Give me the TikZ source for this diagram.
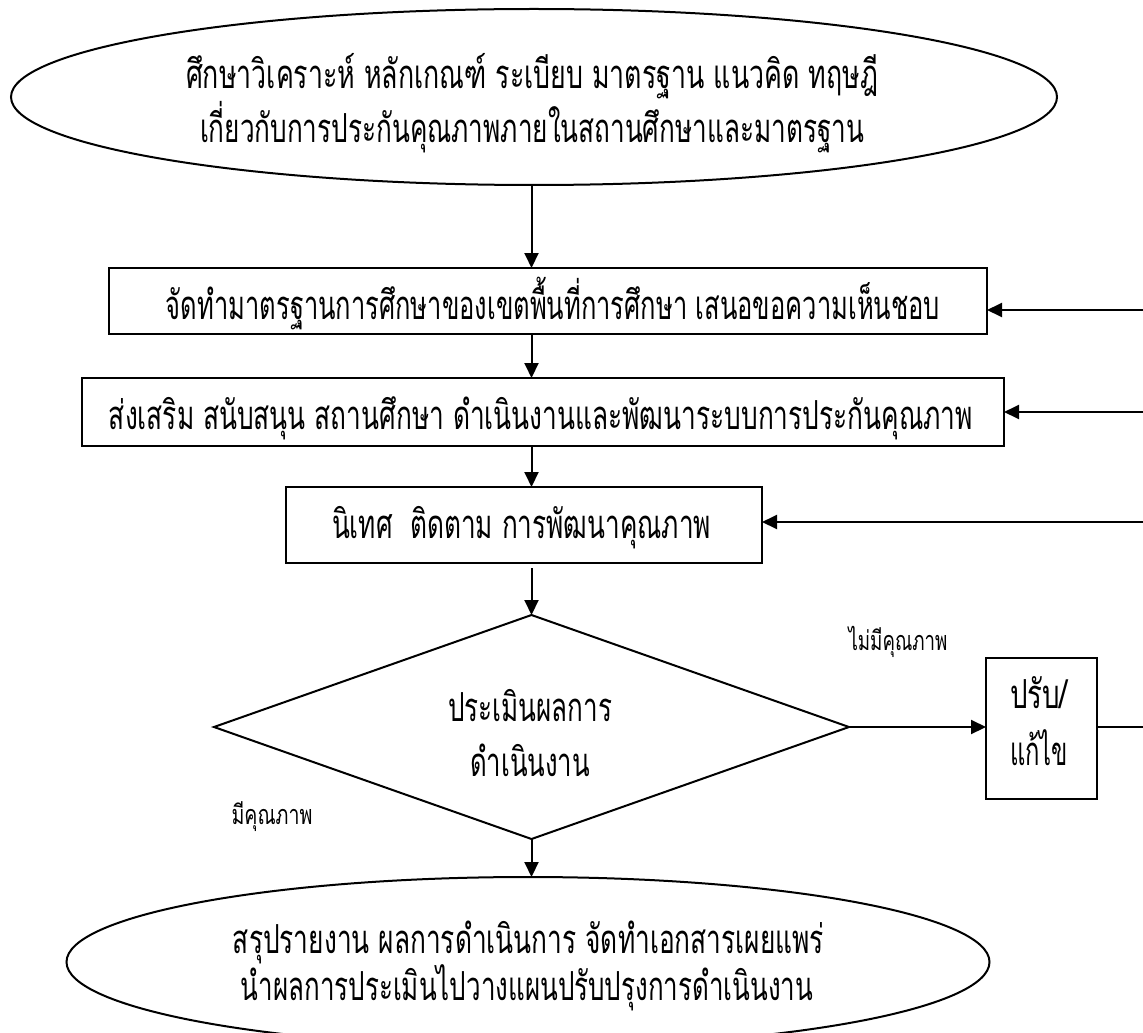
\documentclass[tikz,border=0pt]{standalone}
\usepackage{fontspec}
\usepackage{graphicx}
\newfontfamily\thai[Script=Thai]{Loma}
\usetikzlibrary{shapes.geometric,arrows.meta}
\newcommand\fitw[2]{\resizebox{#1}{\height}{#2}}
\begin{document}
\begin{tikzpicture}[x=0.5pt,y=-0.5pt,
  every node/.style={inner sep=0pt,outer sep=0pt},
  ln/.style={line width=1pt},
  arr/.style={ln,-{Triangle[length=7.5pt,width=7pt]}},
  shp/.style={draw,line width=1.3pt},
  thin/.style={draw,line width=1pt},
  txt/.style={font={\thai\fontsize{20}{24}\selectfont},anchor=base},
  small/.style={font={\thai\fontsize{13.5}{16}\selectfont},anchor=base}
]
\useasboundingbox (0,0) rectangle (1143,1032);
\clip (0,0) rectangle (1143,1032);
% shapes
\node[thin,ellipse,minimum width=523pt,minimum height=88pt] (top) at (534,97) {};
\node[txt] (topa) at (532,89) {\fitw{346pt}{ศึกษาวิเคราะห์ หลักเกณฑ์ ระเบียบ มาตรฐาน แนวคิด ทฤษฎี}};
\node[txt] (topb) at (532,143) {\fitw{332pt}{เกี่ยวกับการประกันคุณภาพภายในสถานศึกษาและมาตรฐาน}};
\node[shp,rectangle,minimum width=439pt,minimum height=33pt] (b1) at (548,301) {};
\node[txt] (b1t) at (553,319) {\fitw{387pt}{จัดทำมาตรฐานการศึกษาของเขตพื้นที่การศึกษา เสนอขอความเห็นชอบ}};
\node[shp,rectangle,minimum width=461pt,minimum height=34pt] (b2) at (543,412) {};
\node[txt] (b2t) at (541,429) {\fitw{432pt}{ส่งเสริม สนับสนุน สถานศึกษา ดำเนินงานและพัฒนาระบบการประกันคุณภาพ}};
\node[shp,rectangle,minimum width=238pt,minimum height=38pt] (b3) at (524,525) {};
\node[txt] (b3t) at (521.5,538) {\fitw{189.5pt}{นิเทศ\ \ ติดตาม การพัฒนาคุณภาพ}};
\node[thin,diamond,minimum width=317.5pt,minimum height=112pt] (dm) at (531.5,727) {};
\node[txt] (dma) at (530,721) {\fitw{82pt}{ประเมินผลการ}};
\node[txt] (dmb) at (530,776) {\fitw{60pt}{ดำเนินงาน}};
\node[shp,rectangle,minimum width=55.5pt,minimum height=70.5pt] (fix) at (1041.5,728.5) {};
\node[txt] (fixa) at (1039,708) {\fitw{29pt}{ปรับ/}};
\node[txt] (fixb) at (1039,765) {\fitw{29pt}{แก้ไข}};
\node[thin,ellipse,minimum width=461.5pt,minimum height=85pt] (bot) at (528,962) {};
\node[txt] (bota) at (528.5,953) {\fitw{295.5pt}{สรุปรายงาน ผลการดำเนินการ จัดทำเอกสารเผยแพร่}};
\node[txt] (botb) at (527,1000) {\fitw{286pt}{นำผลการประเมินไปวางแผนปรับปรุงการดำเนินงาน}};
\node[small] (no) at (898,650.5) {\fitw{49.5pt}{ไม่มีคุณภาพ}};
\node[small] (yes) at (272,824.5) {\fitw{40.5pt}{มีคุณภาพ}};
% connectors
\coordinate (r0) at (1160,727);
\draw[arr] (top.south -| dm.north) -- (dm.north |- b1.north);
\draw[arr] (b1.south -| dm.north) -- (dm.north |- b2.north);
\draw[arr] (b2.south -| dm.north) -- (dm.north |- b3.north);
\draw[arr] ([yshift=-2.5pt]b3.south -| dm.north) -- (dm.north);
\draw[arr] (dm.east) -- (dm.east -| fix.west);
\draw[ln] (dm.east -| fix.east) -- (r0) -- (r0 |- b1.east);
\draw[arr] ([yshift=-4.5pt]b1.east -| r0) -- ([yshift=-4.5pt]b1.east);
\draw[arr] (r0 |- b2.east) -- (b2.east);
\draw[arr] ([yshift=1.5pt]b3.east -| r0) -- ([yshift=1.5pt]b3.east);
\draw[arr] (dm.south) -- (dm.south |- bot.north);
\end{tikzpicture}
\end{document}
